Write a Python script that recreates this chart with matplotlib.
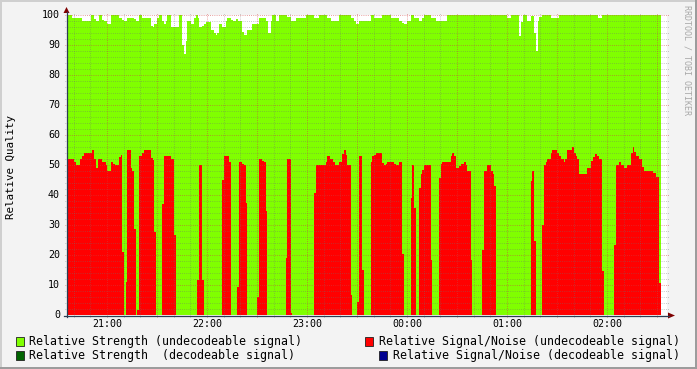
import matplotlib
matplotlib.use("Agg")
import numpy as np
import matplotlib.pyplot as plt
from matplotlib.lines import Line2D
from matplotlib.patches import Polygon, Rectangle

# ==================== Data (minutes after 20:36, value from there on) ====================
strength_t = [0, 3.0, 9.0, 14.4, 16.2, 17.4, 19.2, 21.0, 22.2, 24.0, 26.4, 31.2, 33.0, 34.2,
              36.0, 40.2, 41.4, 43.2, 45.0, 50.4, 51.6, 52.2, 54.0, 55.2, 57.0, 58.2, 59.4,
              60.0, 62.4, 67.2, 69.0, 70.2, 71.4, 72.0, 74.4, 76.2, 77.4, 78.6, 79.2, 81.0,
              82.2, 83.4, 86.4, 88.2, 89.4, 90.0, 91.2, 93.0, 95.4, 96.0, 98.4, 99.6, 101.4,
              102.6, 105.0, 106.2, 108.0, 111.0, 115.2, 119.4, 120.6, 122.4, 123.0, 125.4,
              127.2, 132.0, 134.4, 137.4, 143.4, 148.2, 151.2, 156.0, 158.4, 163.2, 170.4,
              172.2, 173.4, 175.2, 182.4, 184.2, 189.0, 194.4, 199.2, 201.0, 202.2, 204.0,
              206.4, 208.2, 211.2, 213.0, 214.2, 218.4, 221.4, 228.0, 264.0, 266.4, 271.2,
              272.4, 273.6, 276.0, 278.4, 280.2, 281.4, 282.6, 283.2, 285.0, 290.4, 295.2,
              318.6, 321.0]
strength_v = [100, 99, 98, 100, 98.7, 98, 100, 98.3, 98, 97, 100, 99, 98.3, 98,
              99, 98.7, 98, 100, 99, 96.3, 96, 97, 99, 100, 98, 97, 98,
              100, 96, 100, 90, 87, 91.3, 98, 97, 99, 100, 99, 96, 96.3,
              97, 97.7, 95, 94, 93.3, 94, 97, 96, 98, 99, 98.3, 98, 98.7,
              98, 94.3, 93.3, 95, 97, 99, 98, 94, 98, 100, 98,
              100, 99.3, 98, 99, 100, 99, 100, 99, 98, 100, 99,
              98, 97, 98, 100, 99, 100, 99, 98, 97.3, 97, 98,
              100, 99, 98, 99, 100, 99, 98, 100, 99, 100, 93,
              97.7, 100, 98, 99.7, 94, 88, 98, 99.3, 100, 99, 100,
              99, 100]

snr_t = [0, 4.2, 5.4, 7.8, 9.0, 10.2, 15.0, 16.2, 17.4, 18.6, 21.0, 23.4, 24.0, 26.4, 27.6,
         28.8, 31.2, 32.4, 33.0, 34.2, 35.4, 36.0, 38.4, 39.0, 40.2, 41.4, 42.0, 43.2, 45.0,
         46.2, 50.4, 51.6, 52.2, 53.4, 57.0, 58.2, 62.4, 64.2, 65.4, 78.0, 79.2, 81.0, 82.2,
         93.0, 94.2, 97.2, 98.4, 102.0, 103.2, 105.0, 106.2, 107.4, 108.0, 114.0, 115.2,
         117.0, 118.2, 119.4, 120.0, 131.4, 132.0, 134.4, 135.0, 148.2, 149.4, 155.4, 156.0,
         157.8, 159.6, 160.8, 163.2, 165.0, 166.2, 167.4, 168.0, 170.4, 171.0, 174.0, 175.2,
         177.0, 178.2, 182.4, 183.0, 184.2, 185.4, 189.0, 190.2, 191.4, 192.0, 196.2, 197.4,
         199.2, 201.0, 202.2, 206.4, 207.0, 208.2, 209.4, 211.2, 212.4, 213.0, 214.2, 218.4,
         219.0, 223.2, 224.4, 225.0, 230.4, 231.0, 232.2, 233.4, 235.2, 236.4, 238.2, 239.4,
         240.0, 242.4, 243.0, 249.0, 250.2, 252.0, 254.4, 255.6, 256.2, 257.4, 278.4, 279.0,
         280.2, 281.4, 285.0, 286.2, 287.4, 288.0, 290.4, 291.0, 294.0, 295.2, 296.4, 298.2,
         298.8, 300.0, 303.0, 304.2, 305.4, 306.0, 307.2, 312.0, 314.4, 315.6, 316.8, 318.0,
         319.2, 321.0, 322.2, 328.2, 329.4, 331.2, 332.4, 334.2, 336.0, 338.4, 339.6, 340.2,
         341.4, 343.2, 345.0, 346.2, 351.6, 353.4, 355.2]
snr_v = [52, 51, 50, 52, 53, 54, 55, 52, 49, 52, 51, 50, 48, 51, 50.3,
         50, 52.7, 53.3, 21, 0, 11, 55, 49, 48, 28.7, 0, 1.7, 53, 54,
         55, 52.3, 51.7, 27.7, 0, 37, 53, 52, 26.7, 0, 11.7, 50, 11.7, 0,
         45, 53, 51, 0, 9.3, 51, 50.3, 50, 37.3, 0, 6, 52,
         51.3, 51, 34.7, 0, 19, 52, 0.7, 0, 40.7, 50, 51, 53,
         52, 51, 50, 51, 53.7, 55, 53.3, 50, 6.7, 0, 4.3, 53,
         15, 0, 51, 53, 53.3, 54, 50.7, 50, 50.3, 51, 50.3, 50,
         51, 20.3, 0, 39, 50, 35.7, 0, 42.3, 47, 48.3, 50, 18.3,
         0, 45.7, 50.3, 51, 53, 54, 53, 49, 49.7, 50.3, 51, 50,
         48, 18.3, 0, 21.7, 48, 50, 48, 47, 43, 0, 44.7, 48,
         24.7, 0, 30, 50, 51, 52, 54, 55, 54, 53, 52, 51,
         52, 55, 56, 54, 53, 52, 47, 49, 51.3, 52.7, 53.7, 53,
         52, 14.7, 0, 23.3, 50, 51, 50, 49, 50, 54, 56, 54.3,
         53, 52, 49.3, 48, 47.3, 46, 10.7]
DATA_END = 356.6

hour_labels = ["21:00", "22:00", "23:00", "00:00", "01:00", "02:00"]
hour_pos = [24, 84, 144, 204, 264, 324]
y_values = list(range(0, 101, 10))

legend_left = ["Relative Strength (undecodeable signal)",
               "Relative Strength  (decodeable signal)"]
legend_right = ["Relative Signal/Noise (undecodeable signal)",
                "Relative Signal/Noise (decodeable signal)"]
legend_left_colors = ["#80FF00", "#006400"]
legend_right_colors = ["#FF0000", "#000090"]
# ==========================================================================================

W, H = 697, 369
X0, X1, Y0, Y1 = 67, 667, 315, 15
MONO = "DejaVu Sans Mono"


def fx(x):
    return x / W


def fy(y):
    return 1 - y / H


def steps(t, v):
    return list(t) + [DATA_END], list(v) + [v[-1]]


fig = plt.figure(figsize=(W / 100, H / 100), dpi=100, facecolor="#F3F3F3")

# 3d frame
fig.add_artist(Rectangle((0, fy(2)), 1, 2 / H, transform=fig.transFigure, color="#CFCFCF", lw=0))
fig.add_artist(Rectangle((0, 0), 2 / W, 1, transform=fig.transFigure, color="#CFCFCF", lw=0))
fig.add_artist(Rectangle((0, 0), 1, 2 / H, transform=fig.transFigure, color="#9C9C9C", lw=0))
fig.add_artist(Rectangle((fx(W - 2), 0), 2 / W, 1, transform=fig.transFigure, color="#9C9C9C", lw=0))

ax = fig.add_axes([fx(X0), fy(Y0), (X1 - X0) / W, (Y0 - Y1) / H])
ax.set_facecolor("white")
ax.set_xlim(0, 360)
ax.set_ylim(0, 100)
for s in ax.spines.values():
    s.set_visible(False)
ax.set_xticks([])
ax.set_yticks([])

t, v = steps(strength_t, strength_v)
ax.fill_between(t, v, step="post", color="#80FF00", lw=0, antialiased=False, zorder=1)
t, v = steps(snr_t, snr_v)
ax.fill_between(t, v, step="post", color="#FF0000", lw=0, antialiased=False, zorder=2)

# grid on top of the areas, rrdtool style dotted
dash = (0, (0.72, 1.44))
minor_kw = dict(color="#707070", alpha=0.5, lw=0.72, linestyle=dash, zorder=3,
                clip_on=False)
major_kw = dict(color="#D04040", alpha=0.65, lw=0.72, linestyle=dash, zorder=4,
                clip_on=False)
ext_y = 2 / 300
ext_x = 2 / 600
for m in np.arange(4, 360, 10):
    if (m - 24) % 30 == 0:
        continue
    ax.axvline(m, ymin=-ext_y, ymax=1 + ext_y, **minor_kw)
for m in np.arange(24, 360, 30):
    ax.axvline(m, ymin=-ext_y, ymax=1 + ext_y, **major_kw)
for y in range(2, 101, 2):
    if y % 10 == 0:
        continue
    ax.axhline(y, xmin=-ext_x, xmax=1 + ext_x, **minor_kw)
for y in range(10, 101, 10):
    ax.axhline(y, xmin=-ext_x, xmax=1 + ext_x, **major_kw)

# axes and arrows
axis_col = "#2C3D53"
arrow_col = "#7F0000"
fig.add_artist(Line2D([fx(X0 - 0.5), fx(X0 - 0.5)], [fy(Y0 + 2), fy(12)], color=axis_col, lw=0.9))
fig.add_artist(Line2D([fx(X0 - 3), fx(669)], [fy(Y0 + 0.5), fy(Y0 + 0.5)], color=axis_col, lw=0.9))
fig.add_artist(Polygon([[fx(X0 - 3.5), fy(13)], [fx(X0 + 2.5), fy(13)], [fx(X0 - 0.5), fy(7)]],
                       transform=fig.transFigure, color=arrow_col, lw=0))
fig.add_artist(Polygon([[fx(668), fy(Y0 - 2.5)], [fx(668), fy(Y0 + 3.5)], [fx(675), fy(Y0 + 0.5)]],
                       transform=fig.transFigure, color=arrow_col, lw=0))

# tick labels
for yv in y_values:
    fig.text(fx(60), fy(Y0 - 3 * yv), str(yv), ha="right", va="center",
             family=MONO, fontsize=7.2, color="black")
for pos, lab in zip(hour_pos, hour_labels):
    fig.text(fx(X0 + pos / 0.6), fy(324), lab, ha="center", va="center",
             family=MONO, fontsize=7.2, color="black")

fig.text(fx(11), fy(167), "Relative Quality", rotation=90, ha="center", va="center",
         family=MONO, fontsize=7.8, color="black")
fig.text(fx(687), fy(5), "RRDTOOL / TOBI OETIKER", rotation=270, ha="center", va="top",
         family=MONO, fontsize=6.0, color="#A8A8A8")

# legend
rows = [341.5, 355.5]
right_box_x = [365, 379]
for i, row in enumerate(rows):
    fig.add_artist(Rectangle((fx(16), fy(row + 4.5)), 8 / W, 9 / H, transform=fig.transFigure,
                             facecolor=legend_left_colors[i], edgecolor="#202020", lw=0.6))
    fig.text(fx(29), fy(row), legend_left[i], ha="left", va="center",
             family=MONO, fontsize=8.35, color="black")
    fig.add_artist(Rectangle((fx(right_box_x[i]), fy(row + 4.5)), 8 / W, 9 / H,
                             transform=fig.transFigure,
                             facecolor=legend_right_colors[i], edgecolor="#202020", lw=0.6))
    fig.text(fx(680), fy(row), legend_right[i], ha="right", va="center",
             family=MONO, fontsize=8.35, color="black")

fig.savefig("out.png", dpi=100, facecolor=fig.get_facecolor())
